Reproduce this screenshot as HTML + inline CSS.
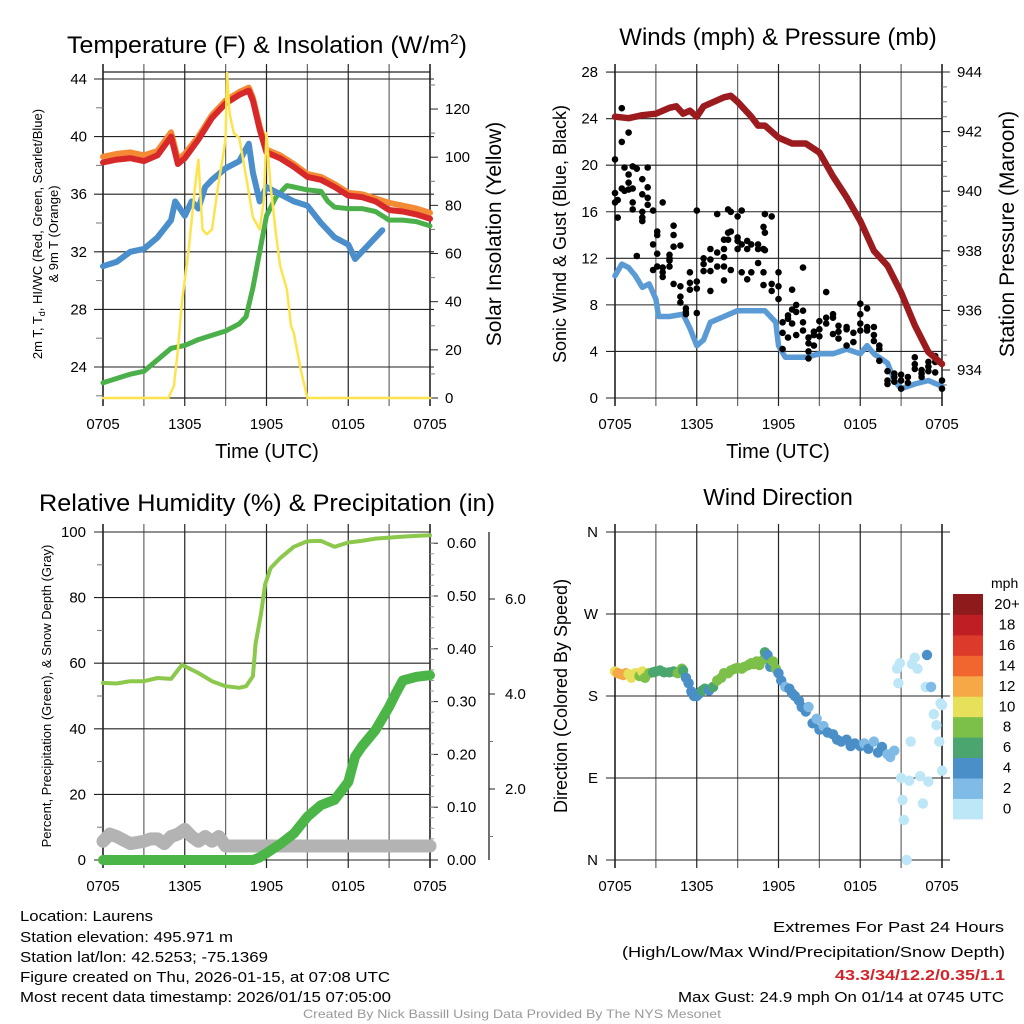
<!DOCTYPE html>
<html><head><meta charset="utf-8"><style>
html,body{margin:0;padding:0;background:#fff}
svg{display:block}
text{font-family:"Liberation Sans",sans-serif;fill:#000}
</style></head><body>
<svg id="s" width="1024" height="1024" viewBox="0 0 1024 1024" xmlns="http://www.w3.org/2000/svg">
<g id="g"></g>
<text x="267" y="53" font-size="24" text-anchor="middle" textLength="400" lengthAdjust="spacingAndGlyphs">Temperature (F) &amp; Insolation (W/m<tspan font-size="15" dy="-9">2</tspan><tspan dy="9">)</tspan></text>
<text x="778" y="45" font-size="24" text-anchor="middle">Winds (mph) &amp; Pressure (mb)</text>
<text x="267" y="511" font-size="24" text-anchor="middle" textLength="456" lengthAdjust="spacingAndGlyphs">Relative Humidity (%) &amp; Precipitation (in)</text>
<text x="778" y="505" font-size="23" text-anchor="middle">Wind Direction</text>
<text x="267" y="458" font-size="20" text-anchor="middle">Time (UTC)</text>
<text x="778" y="458" font-size="20" text-anchor="middle">Time (UTC)</text>
<text font-size="13" text-anchor="middle" transform="translate(42,234) rotate(-90)">2m T, T<tspan font-size="9" dy="3">d</tspan><tspan dy="-3">, HI/WC (Red, Green, Scarlet/Blue)</tspan></text>
<text font-size="13" text-anchor="middle" transform="translate(58,234) rotate(-90)">&amp; 9m T (Orange)</text>
<text font-size="21" text-anchor="middle" transform="translate(501,234) rotate(-90)">Solar Insolation (Yellow)</text>
<text font-size="18" text-anchor="middle" transform="translate(566,234) rotate(-90)">Sonic Wind &amp; Gust (Blue, Black)</text>
<text font-size="21" text-anchor="middle" transform="translate(1014,234) rotate(-90)">Station Pressure (Maroon)</text>
<text font-size="13" text-anchor="middle" transform="translate(51,696) rotate(-90)">Percent, Precipitation (Green), &amp; Snow Depth (Gray)</text>
<text font-size="18" text-anchor="middle" transform="translate(567,696) rotate(-90)">Direction (Colored By Speed)</text>
<text x="991" y="588" font-size="14">mph</text>
<g font-size="15">
<text x="20" y="921" textLength="133" lengthAdjust="spacingAndGlyphs">Location: Laurens</text>
<text x="20" y="942" textLength="213" lengthAdjust="spacingAndGlyphs">Station elevation: 495.971 m</text>
<text x="20" y="962" textLength="248" lengthAdjust="spacingAndGlyphs">Station lat/lon: 42.5253; -75.1369</text>
<text x="20" y="982" textLength="370" lengthAdjust="spacingAndGlyphs">Figure created on Thu, 2026-01-15, at 07:08 UTC</text>
<text x="20" y="1002" textLength="371" lengthAdjust="spacingAndGlyphs">Most recent data timestamp: 2026/01/15 07:05:00</text>
</g>
<g font-size="15" text-anchor="end">
<text x="1004" y="932" textLength="231" lengthAdjust="spacingAndGlyphs">Extremes For Past 24 Hours</text>
<text x="1005" y="957" textLength="383" lengthAdjust="spacingAndGlyphs">(High/Low/Max Wind/Precipitation/Snow Depth)</text>
<text x="1005" y="980" textLength="170" lengthAdjust="spacingAndGlyphs" font-weight="bold" style="fill:#d0262b">43.3/34/12.2/0.35/1.1</text>
<text x="1004" y="1002" textLength="326" lengthAdjust="spacingAndGlyphs">Max Gust: 24.9 mph On 01/14 at 0745 UTC</text>
</g>
<text x="512" y="1018" font-size="12" text-anchor="middle" textLength="418" lengthAdjust="spacingAndGlyphs" style="fill:#999">Created By Nick Bassill Using Data Provided By The NYS Mesonet</text>
</svg>
<script>
// ---------- data ----------
const xTickLabels = ["0705","1305","1905","0105","0705"];
const xTickHours = [0,6,12,18,24];
const tempTicks = [24,28,32,36,40,44];
const solarTicks = [0,20,40,60,80,100,120];
const windTicks = [0,4,8,12,16,20,24,28];
const presTicks = [934,936,938,940,942,944];
const rhTicks = [0,20,40,60,80,100];
const precipTicks = ["0.00","0.10","0.20","0.30","0.40","0.50","0.60"];
const snowTicks = ["2.0","4.0","6.0"];
const dirTicks = ["N","E","S","W","N"]; // bottom (0°) to top (360°)
const speedBins = ["0","2","4","6","8","10","12","14","16","18","20+"];

const tHours = [0,1,2,3,4,5,5.5,6,7,8,9,10,10.7,11,11.5,12,13,14,15,16,17,18,19,20,21,22,23,24];
const temp2m = [38.2,38.4,38.5,38.3,38.7,40.0,38.1,38.5,39.8,41.3,42.3,42.9,43.2,42.5,40.5,38.9,38.5,37.9,37.2,37.0,36.5,35.9,35.8,35.5,34.9,34.8,34.6,34.3];
const temp9m = [38.6,38.8,38.9,38.7,39.0,40.3,38.4,38.8,40.0,41.5,42.5,43.1,43.4,42.7,40.7,39.1,38.7,38.1,37.4,37.2,36.7,36.1,36.0,35.7,35.4,35.2,35.0,34.7];
const hwHours = [0,1,2,3,4,5,5.3,6,6.5,7,7.5,8,9,10,10.7,11,11.5,12,13,14,15,16,17,18,18.5,19,20,20.5];
const windChill = [31.0,31.3,32.0,32.2,33.0,34.2,35.5,34.5,35.5,35.0,36.5,37.0,37.8,38.3,39.5,37.5,35.5,36.5,36.0,35.5,35.2,34.0,33.0,32.5,31.5,32.0,33.0,33.5];
const tdHours = [0,1,2,3,4,5,6,7,8,9,10,10.5,11,11.5,12,12.7,13.5,14,15,16,16.5,17,18,19,20,21,22,23,24];
const dewPoint = [22.9,23.2,23.5,23.7,24.5,25.3,25.5,25.9,26.2,26.5,27.0,27.5,29.5,32.0,34.5,35.8,36.6,36.5,36.3,36.2,35.5,35.1,35.0,35.0,34.8,34.2,34.2,34.1,33.8];
const solHours = [0,4.8,5.2,5.5,5.8,6.3,6.8,7.0,7.3,7.6,8,8.5,8.8,9.0,9.1,9.3,9.6,10,10.5,11,11.5,11.8,12,12.3,12.7,13,13.5,13.8,14,14.5,15,24];
const solar = [0,0,5,20,40,62,90,99,70,68,70,90,100,108,135,118,110,108,92,75,70,82,110,88,68,55,45,30,27,12,0,0];

const wHours = [0,0.5,1,1.5,2,2.5,3,3.2,4,5,5.5,6,6.5,7,8,9,10,11,11.8,12,12.5,13,14,15,16,17,18,18.5,19,20,20.5,21,22,23,24];
const sonic = [10.5,11.5,11.2,10.5,9.5,9.8,8.5,7,7,7.2,6,4.5,5,6.5,7,7.5,7.5,7.5,6.5,4.5,3.5,3.5,3.5,3.8,3.8,4.2,3.8,4.5,3.8,3.0,1.5,0.8,1.2,1.5,1.0];
const gustHours = [0,0,0,0.2,0.2,0.5,0.5,0.5,0.7,0.7,1,1,1,1,1.3,1.3,1.3,1.3,1.6,1.6,2,2,2,2,2,2.4,2.4,2.4,2.4,2.8,2.8,2.8,3.1,3.1,3.1,3.1,3.5,3.5,3.5,3.5,4,4,4,4,4.3,4.3,4.3,4.3,4.8,4.8,4.8,4.8,5.2,5.2,5.2,5.5,5.5,5.5,6,6,6,6,6.5,6.5,6.5,7,7,7,7,7.5,7.5,7.5,8,8,8,8,8,8.3,8.3,8.3,8.5,8.5,8.5,9,9,9,9,9.3,9.3,9.3,9.7,9.7,9.7,10,10,10.5,10.5,10.5,10.9,10.9,10.9,10.9,11,11,11,11.5,11.5,11.5,12,12,12,12.3,12.3,12.3,12.7,12.7,12.7,13,13,13,13.3,13.3,13.3,13.8,13.8,13.8,13.8,14.2,14.2,14.2,14.2,14.6,14.6,14.6,15,15,15,15.5,15.5,15.5,16,16,16,16.4,16.4,16.4,17,17,17,17.5,17.5,18,18,18,18,18.5,18.5,18.5,19,19,19,19.4,19.4,19.4,20,20,20,20.5,20.5,20.5,21,21,21,21.5,21.5,22,22,22,22.5,22.5,22.5,23,23,23,23.5,23.5,23.5,24,24];
const gusts = [17.6,16.8,20.5,15.5,17,22,24.9,18,17.8,19.8,22.8,18.5,19.2,17.9,19.9,16.8,16.2,18,12.2,19.7,15.5,15.2,16,18.8,17.5,16.6,19.8,17.2,18.1,16.1,13.2,11,14.3,14,12.4,11.3,10.4,11.2,16.8,10.8,12.3,12,11.8,11.3,14.8,14,13,9.8,9.6,8.7,13.1,8.2,7.7,7.4,7.2,9.3,10.8,9.9,16.1,7.3,10,9.4,12,10.9,11.5,12.8,9.2,10.9,11.9,15.8,12.5,11.3,13.6,12.1,12.8,10.1,11.3,16.2,13.6,14.2,16,14.3,11,15.6,13.5,12.8,13.8,16.1,10.8,13.2,13.5,10.2,12.8,13.2,10.8,13.2,11.6,12.8,14.7,12.8,10.8,9.7,15.8,14.2,12.7,15.6,9.8,9.2,10.8,9.6,8.5,6.5,5.6,4.2,7.1,6.8,5.2,9.3,7.6,6.4,8,7.4,5.4,11.2,5.8,6.5,7.5,4,3.4,4.7,5.2,5.7,5.4,4.5,6.6,5.9,5.3,6.9,9.1,6.4,7.2,6.9,5.5,6.2,5.7,5.1,5.9,6.1,4.5,5.6,4.8,8.1,7.2,6.4,5.8,7.7,6.1,5.8,6.1,5.4,4.9,4.5,4.2,3.2,2.3,1.5,1.2,2.1,1.8,1.4,2,1.5,0.8,1.8,1.3,3.5,2.9,2.5,2.1,2.4,1.8,3.1,2.7,2.3,3.6,3.1,2.2,0.8,1.5];
const pHours = [0,1,2,3,4,4.5,5,5.5,6,6.5,7,8,8.5,9,10,10.5,11,12,13,14,15,16,17,18,19,20,21,22,23,24];
const pressure = [942.5,942.45,942.55,942.6,942.8,942.85,942.6,942.7,942.5,942.85,942.95,943.15,943.2,943.0,942.5,942.2,942.2,941.8,941.6,941.6,941.3,940.5,939.8,939.0,938.0,937.5,936.6,935.5,934.6,934.2];

const rhHours = [0,1,2,3,4,5,5.8,7,8,9,10,10.5,11,11.2,11.6,11.9,12.3,13,14,15,16,17,18,19,20,21,22,23,24];
const rh = [54,53.8,54.5,54.5,55.5,55.2,59.5,57,54.5,53,52.5,53,56,66,75,84,89,92,95.5,97.2,97.3,95.5,96.8,97.3,98,98.3,98.6,98.8,99];
const prHours = [0,11,11.5,12,13,14,15,16,17,18,18.5,19,20,21,21.5,22,23,24];
const precip = [0,0,0.005,0.013,0.03,0.05,0.082,0.104,0.114,0.148,0.196,0.215,0.246,0.29,0.316,0.34,0.347,0.35];
const snHours = [0,0.5,1,2,3,3.5,4,4.5,5,5.5,6,6.5,7,7.5,8,8.5,9,24];
const snow = [0.9,1.05,1.0,0.85,0.9,0.95,0.95,0.85,1.0,1.05,1.15,1.0,0.9,1.0,0.9,1.0,0.8,0.8];

const dHours = [0,0.2,0.4,0.6,0.8,1,1.2,1.5,1.8,2,2.2,2.5,2.8,3,3.3,3.6,4,4.3,4.6,4.9,5,5.2,5.4,5.6,5.8,6,6.2,6.4,6.6,6.9,7.2,7.5,7.8,8,8.3,8.5,8.8,9,9.3,9.5,9.8,10,10.2,10.4,10.6,10.9,11,11.2,11.4,11.6,11.8,12,12.2,12.5,12.8,13,13.2,13.5,13.7,14,14.2,14.5,14.8,15,15.3,15.6,16,16.3,16.6,17,17.3,17.6,18,18.3,18.6,19,19.3,19.6,20,20.2,20.5,20.7,20.8,20.9,21,21.1,21.2,21.4,21.6,21.8,22,22.2,22.4,22.6,22.8,23,23.2,23.4,23.6,23.8,24,24,23.9,22.9,21.7];
const dirs = [207,205,204,203,205,204,200,205,202,207,200,205,206,207,208,206,206,207,205,210,208,200,194,185,180,180,183,186,188,186,190,197,200,205,205,208,210,211,210,212,214,216,215,218,214,220,228,225,212,218,210,205,197,190,188,183,180,175,168,163,168,150,155,143,147,140,138,132,130,132,125,128,125,128,122,130,118,124,116,113,120,210,194,216,90,66,44,0,87,215,222,210,92,62,190,86,190,160,148,130,98,170,172,225,130];
const speeds = [11,12,13,12,12,10,11,10,9,11,8,8,7,7,6,7,7,6,8,8,6,5,5,4,4,4,5,6,6,5,6,8,8,8,8,8,9,8,8,9,8,8,8,9,9,8,7,4,5,8,8,4,4,3,4,4,4,4,4,4,3,4,3,4,3,4,4,4,4,4,4,4,4,3,4,3,4,4,3,3,3,1,1,1,1,1,1,1,1,1,1,1,1,1,1,1,3,1,1,1,1,1,1,4,1];
const binColors = ["#bde6f7","#7fbbe6","#4a8fc7","#4aa56f","#7cc04a","#e6e05a","#f5a845","#f0662e","#dc3a2a","#bf1f24","#8f1a1c"];

// ---------- scales ----------
const X1 = h => 103 + h * 13.625;
const X2 = h => 615 + h * 13.625;
const yT = v => 79 + (44 - v) * 14.4;
const yS = v => 398 - v * 2.408;
const yW = v => 398 - v * 11.64;
const yP = v => 72 + (944 - v) * 29.8;
const yRH = v => 860 - v * 3.28;
const yPr = v => 860 - v * 528;
const ySn = v => 884 - v * 47.5;
const yD = v => 860 - v * 0.9111;

const NS = "http://www.w3.org/2000/svg";
const G = document.getElementById("g");
function mk(tag, at, parent) {
  const e = document.createElementNS(NS, tag);
  for (const k in at) e.setAttribute(k, at[k]);
  (parent || G).appendChild(e);
  return e;
}
function line(x1, y1, x2, y2, st, w, name) {
  const e = mk("line", {x1, y1, x2, y2, stroke: st, "stroke-width": w});
  
  
  return e;
}
function txt(x, y, s, size, anchor, name) {
  const e = mk("text", {x, y, "font-size": size, "text-anchor": anchor});
  e.textContent = s;
  
  
  return e;
}
function series(xs, ys, xf, yf, color, w, name) {
  let d = "";
  xs.forEach((h, i) => { d += (i ? "L" : "M") + xf(h).toFixed(1) + "," + yf(ys[i]).toFixed(1); });
  const e = mk("path", {d, fill: "none", stroke: color, "stroke-width": w, "stroke-linejoin": "round", "stroke-linecap": "round"});
  
  
  return e;
}

// ---------- frames ----------
function frame(X, top, bot, name) {
  for (let h = 0; h <= 24; h += 3) {
    line(X(h), top - 8, X(h), bot + 8, (h % 6 === 0) ? "#222" : "#666", (h === 0 || h === 24) ? 1.6 : 1.2, name + "-vgrid");
  }
  xTickHours.forEach((h, i) => txt(X(h), bot + 31, xTickLabels[i], 15, "middle", name + "-x-tick-label"));
}
// Panel 1
frame(X1, 72, 398, "temp");
line(X1(0), 72, X1(24), 72, "#222", 1.2, "temp-top-border");
line(X1(0), 398, X1(24), 398, "#222", 1.2, "temp-bottom-border");
tempTicks.forEach(v => { line(94, yT(v), X1(24) + 4, yT(v), "#222", 1.1, "temp-hgrid"); txt(87, yT(v) + 5, String(v), 15, "end", "temp-y-tick-label"); });
for (let v = 22; v <= 44; v += 2) if (v % 4) line(96, yT(v), 103, yT(v), "#777", 1, "temp-minor-tick");
solarTicks.forEach(v => { line(X1(24), yS(v), X1(24) + 8, yS(v), "#222", 1, "solar-tick"); txt(445, yS(v) + 5, String(v), 15, "start", "solar-y-tick-label"); });
for (let v = 10; v <= 130; v += 10) if (v % 20) line(X1(24), yS(v), X1(24) + 5, yS(v), "#777", 1, "solar-minor-tick");
// Panel 2
frame(X2, 72, 398, "winds");
windTicks.forEach(v => { line(606, yW(v), X2(24), yW(v), "#222", 1.1, "wind-hgrid"); txt(598, yW(v) + 5, String(v), 15, "end", "wind-y-tick-label"); });
presTicks.forEach(v => { line(X2(24), yP(v), X2(24) + 8, yP(v), "#222", 1, "pressure-tick"); txt(957, yP(v) + 5, String(v), 15, "start", "pressure-y-tick-label"); });
for (let v = 933.5; v < 944; v += 0.5) if (v % 2) line(X2(24), yP(v), X2(24) + 5, yP(v), "#777", 1, "pressure-minor-tick");
// Panel 3
frame(X1, 532, 860, "humidity");
rhTicks.forEach(v => { line(94, yRH(v), X1(24), yRH(v), "#222", 1.1, "rh-hgrid"); txt(86, yRH(v) + 5, String(v), 15, "end", "rh-y-tick-label"); });
for (let v = 10; v < 100; v += 20) line(97, yRH(v), 103, yRH(v), "#777", 1, "rh-minor-tick");
precipTicks.forEach((s, i) => { const y = yPr(i * 0.1); line(X1(24), y, X1(24) + 8, y, "#222", 1, "precip-tick"); txt(447, y + 5, s, 15, "start", "precip-y-tick-label"); });
for (let v = 0.02; v < 0.62; v += 0.02) line(X1(24), yPr(v), X1(24) + 4, yPr(v), "#999", 1, "precip-minor-tick");
line(489, 532, 489, 860, "#222", 1.3, "snow-axis");
snowTicks.forEach((s, i) => { const y = ySn((i + 1) * 2); line(489, y, 495, y, "#222", 1, "snow-tick"); txt(505, y + 5, s, 15, "start", "snow-y-tick-label"); });
for (let v = 1; v < 7; v += 2) line(489, ySn(v), 493, ySn(v), "#777", 1, "snow-minor-tick");
// Panel 4
frame(X2, 532, 860, "direction");
dirTicks.forEach((s, i) => { const y = yD(i * 90); line(606, y, X2(24) + 8, y, "#222", 1.1, "dir-hgrid"); txt(598, y + 5, s, 15, "end", "dir-y-tick-label"); });

// ---------- series ----------
series(tHours, temp9m, X1, yT, "#f58a35", 6, "line-9m-temp");
series(tHours, temp2m, X1, yT, "#d7282a", 6, "line-2m-temp");
series(tdHours, dewPoint, X1, yT, "#4cb04a", 5, "line-dewpoint");
series(hwHours, windChill, X1, yT, "#4a8ecb", 6, "line-wind-chill");
series(solHours, solar, X1, yS, "#fde44e", 2.5, "line-solar");

series(wHours, sonic, X2, yW, "#5b9bd5", 5.5, "line-sonic-wind");
gustHours.forEach((h, i) => {
  const c = mk("circle", {cx: X2(h).toFixed(1), cy: yW(gusts[i]).toFixed(1), r: 3.3, fill: "#000"});
  
  
});
series(pHours, pressure, X2, yP, "#9b1b1e", 6.5, "line-pressure");

series(snHours, snow, X1, ySn, "#b3b3b3", 13, "line-snow-depth");
series(rhHours, rh, X1, yRH, "#8cc84b", 4, "line-rh");
series(prHours, precip, X1, yPr, "#4bb548", 10, "line-precip");

dHours.forEach((h, i) => {
  const b = Math.min(10, Math.floor(speeds[i] / 2));
  const c = mk("circle", {cx: X2(h).toFixed(1), cy: yD(dirs[i]).toFixed(1), r: 5.2, fill: binColors[b]});
  
  
});
// colorbar
const cbTop = 594, cbH = 20.45;
speedBins.forEach((s, i) => {
  const k = 10 - i;
  const r = mk("rect", {x: 953, y: (cbTop + k * cbH).toFixed(1), width: 30, height: (cbH + 0.5).toFixed(1), fill: binColors[i]});
  
  
  txt(1007, cbTop + k * cbH + 15, speedBins[i], 15, "middle", "colorbar-label");
});
</script>
</body></html>
